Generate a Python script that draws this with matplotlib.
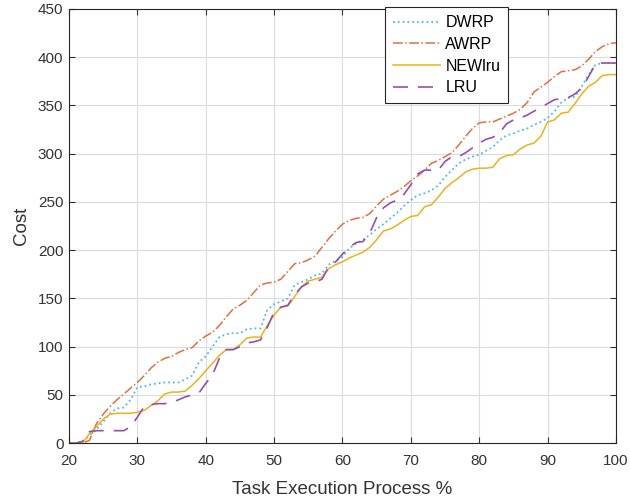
import matplotlib
matplotlib.use('Agg')
import matplotlib.pyplot as plt
import numpy as np

plt.rcParams['font.family'] = ['Liberation Sans', 'DejaVu Sans']

x = np.arange(20, 101)

dwrp = [0, 0, 2, 8, 14, 22, 31, 36, 37, 45,
        58, 59, 61, 62, 63, 63, 63, 66, 70, 84,
        90, 100, 110, 113, 114, 114, 118, 119, 119, 138,
        144, 147, 150, 164, 167, 170, 174, 176, 185, 189,
        193, 202, 207, 211, 216, 222, 227, 233, 239, 246,
        252, 257, 259, 262, 267, 276, 283, 290, 294, 297,
        299, 303, 307, 314, 319, 321, 324, 326, 330, 333,
        337, 344, 353, 358, 359, 370, 382, 392, 394, 394, 394]

awrp = [0, 0, 0, 3, 20, 30, 38, 45, 51, 57,
        63, 70, 78, 84, 88, 90, 94, 97, 99, 106,
        111, 115, 122, 131, 139, 143, 148, 156, 164, 166,
        167, 170, 178, 186, 187, 190, 194, 203, 212, 220,
        227, 231, 233, 234, 238, 246, 253, 257, 261, 266,
        272, 277, 283, 290, 293, 297, 301, 309, 318, 326,
        332, 333, 333, 336, 339, 342, 346, 353, 364, 369,
        374, 380, 385, 386, 387, 391, 398, 406, 411, 414, 415]

newlru = [0, 0, 0, 10, 17, 25, 30, 31, 31, 31,
          32, 34, 39, 44, 51, 53, 53, 54, 60, 67,
          75, 83, 91, 97, 97, 102, 109, 110, 110, 122,
          133, 141, 142, 152, 162, 168, 170, 172, 181, 185,
          188, 192, 195, 198, 203, 211, 220, 222, 226, 231,
          235, 236, 245, 247, 255, 264, 270, 275, 281, 284,
          285, 285, 286, 295, 298, 299, 305, 309, 311, 318,
          333, 335, 342, 343, 352, 362, 370, 374, 381, 382, 382]

lru = [0, 0, 2, 12, 13, 13, 13, 13, 13, 17,
       27, 38, 40, 41, 41, 42, 45, 48, 50, 52,
       62, 71, 88, 97, 97, 100, 104, 105, 107, 120,
       136, 141, 143, 154, 162, 166, 167, 170, 183, 188,
       196, 203, 208, 209, 218, 234, 244, 249, 252, 258,
       268, 279, 283, 283, 283, 292, 297, 297, 301, 306,
       311, 315, 317, 322, 331, 335, 337, 340, 344, 348,
       352, 356, 357, 358, 362, 368, 380, 393, 394, 394, 394]

fig = plt.figure(figsize=(6.3, 4.98), dpi=100)
ax = fig.add_axes([0.1095, 0.110, 0.8683, 0.872])

ax.plot(x, dwrp, ':', color='#4FB8EC', lw=1.3, label='DWRP')
ax.plot(x, awrp, '-.', color='#E2703F', lw=1.1, label='AWRP')
ax.plot(x, newlru, '-', color='#EDB120', lw=1.1, label='NEWlru')
ax.plot(x, lru, '--', color='#9550AD', lw=1.2, dashes=(9, 6), label='LRU')

ax.set_xlim(20, 100)
ax.set_ylim(0, 450)
ax.set_xticks(np.arange(20, 101, 10))
ax.set_yticks(np.arange(0, 451, 50))
ax.grid(True, color='#dcdcdc', lw=0.8)
ax.set_axisbelow(True)
ax.tick_params(direction='in', top=True, right=True, labelsize=11,
               colors='#333333', length=4)
ax.tick_params(axis='x', pad=8)
ax.tick_params(axis='y', pad=4)
for s in ax.spines.values():
    s.set_color('#262626')
    s.set_linewidth(0.8)

ax.set_xlabel('Task Execution Process %', fontsize=13.5, color='#333333', labelpad=9)
ax.set_ylabel('Cost', fontsize=13.5, color='#333333', labelpad=6)

leg = ax.legend(loc='upper right', bbox_to_anchor=(0.803, 1.004), fontsize=11.5,
                fancybox=False, edgecolor='#262626', framealpha=1,
                handlelength=2.9, handletextpad=0.35, borderpad=0.5,
                labelspacing=0.42, borderaxespad=0)
leg.get_frame().set_linewidth(0.8)

fig.savefig('out.png', dpi=100)
